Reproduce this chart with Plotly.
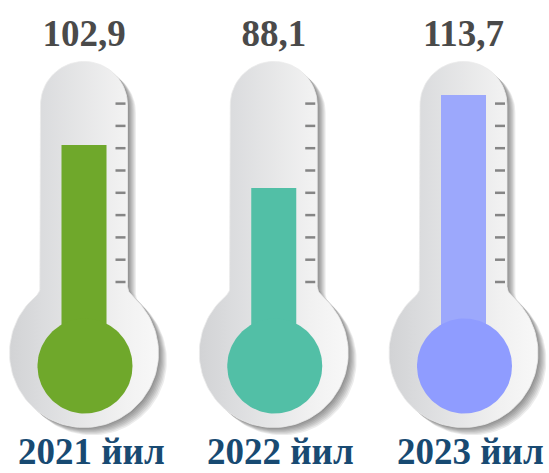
import numpy as np
import plotly.graph_objects as go

# ---------------- data ----------------
years = ["2021 йил", "2022 йил", "2023 йил"]
values = [102.9, 88.1, 113.7]
# mercury height read on the thermometer scale (in graduations)
fill_level = [6.14, 4.22, 8.39]
graduations = list(range(0, 9))
bar_colors = ["#6fa82b", "#52bfa6", "#9ca8fc"]
bulb_colors = ["#6fa82b", "#52bfa6", "#8f9cff"]

# ---------------- layout scale ----------------
W, H = 549, 473
PX_X = 189.75   # pixels per category step
PX_L = 22.3     # pixels per graduation
X0_PX = 84.0    # pixel x of first category
L0_PX = 282.0   # pixel y of graduation 0

x_range = [-X0_PX / PX_X, (W - X0_PX) / PX_X]
y_range = [-(H - L0_PX) / PX_L, L0_PX / PX_L]

TUBE_HW = 43.5
CAP_CY = 105.0
BULB_CY = 353.0
BULB_R = 74.5
FILLET_R = 14.0
INNER_CY = 366.0
INNER_R = 47.5
BAR_W = 45.0
TICK_X0, TICK_X1 = 31.5, 41.5


def lv(py):
    return (L0_PX - py) / PX_L


def body_outline():
    dx, py = [], []
    # rounded cap (right -> left over the top)
    t = np.linspace(0, np.pi, 40)
    dx += list(TUBE_HW * np.cos(t))
    py += list(CAP_CY - TUBE_HW * np.sin(t))
    r = FILLET_R
    fcx = TUBE_HW + r
    fdy = np.sqrt((BULB_R + r) ** 2 - fcx ** 2)
    fcy = BULB_CY - fdy
    th = np.arctan2(fdy, fcx)
    # left fillet
    a = np.linspace(0, th, 12)
    dx += list(-fcx + r * np.cos(a))
    py += list(fcy + r * np.sin(a))
    # bulb
    b0 = np.arctan2(-fdy, -fcx) % (2 * np.pi)
    b1 = np.arctan2(-fdy, fcx)
    b = np.linspace(b0, b1, 100)
    dx += list(BULB_R * np.cos(b))
    py += list(BULB_CY + BULB_R * np.sin(b))
    # right fillet
    a = np.linspace(np.pi - th, np.pi, 12)
    dx += list(fcx + r * np.cos(a))
    py += list(fcy + r * np.sin(a))
    dx.append(TUBE_HW)
    py.append(CAP_CY)
    return np.array(dx), np.array(py)


fig = go.Figure()
bdx, bpy = body_outline()

# shadows + bodies (main axes)
for i in range(len(years)):
    for k in range(1, 8):
        sx = 1.2 * k
        sy = 1.1 * k
        fig.add_trace(go.Scatter(
            x=i + (bdx + sx) / PX_X, y=lv(bpy + sy), mode="lines",
            line=dict(width=0), fill="toself", fillcolor="rgba(0,0,0,0.075)",
            hoverinfo="skip", showlegend=False))
    fig.add_trace(go.Scatter(
        x=i + bdx / PX_X, y=lv(bpy), mode="lines",
        line=dict(width=0.8, color="#ebebeb"), fill="toself",
        fillgradient=dict(type="horizontal",
                          colorscale=[[0, "#d2d3d5"], [0.22, "#dbdcde"],
                                      [0.75, "#f1f1f1"], [1, "#f8f8f8"]]),
        hoverinfo="skip", showlegend=False))

# mercury columns (overlay axes)
bases = [lv(INNER_CY)] * len(years)
fig.add_trace(go.Bar(
    x=list(range(len(years))), y=[f - b for f, b in zip(fill_level, bases)],
    base=bases, width=BAR_W / PX_X, marker=dict(color=bar_colors, line=dict(width=0)),
    xaxis="x2", yaxis="y2", showlegend=False, hoverinfo="skip"))

# bulbs
t = np.linspace(0, 2 * np.pi, 120)
for i in range(len(years)):
    fig.add_trace(go.Scatter(
        x=i + (1 + INNER_R * np.cos(t)) / PX_X, y=lv(INNER_CY + INNER_R * np.sin(t)),
        mode="lines", line=dict(width=0), fill="toself", fillcolor=bulb_colors[i],
        xaxis="x2", yaxis="y2", hoverinfo="skip", showlegend=False))

# graduation ticks
tx, ty = [], []
for i in range(len(years)):
    for g in graduations:
        tx += [i + TICK_X0 / PX_X, i + TICK_X1 / PX_X, None]
        ty += [g, g, None]
fig.add_trace(go.Scatter(x=tx, y=ty, mode="lines", line=dict(color="#858585", width=2.5),
                         xaxis="x2", yaxis="y2", hoverinfo="skip", showlegend=False))

# value labels
fig.add_trace(go.Scatter(
    x=list(range(len(years))), y=[lv(37)] * len(years), mode="text",
    text=[f"{v:.1f}".replace(".", ",") for v in values],
    textfont=dict(family="Liberation Serif", size=37, color="#4a4a4a", weight="bold"),
    xaxis="x2", yaxis="y2", hoverinfo="skip", showlegend=False))

# year labels
for i, yname in enumerate(years):
    fig.add_annotation(x=i, y=lv(473), xref="x2", yref="y2", text=yname, showarrow=False,
                       xshift=7, yanchor="bottom", borderpad=0,
                       font=dict(family="Liberation Serif", size=37,
                                 color="#184a72", weight="bold"))

ax = dict(range=x_range, visible=False, fixedrange=True)
ay = dict(range=y_range, visible=False, fixedrange=True)
fig.update_layout(
    width=W, height=H, margin=dict(l=0, r=0, t=0, b=0),
    paper_bgcolor="white", plot_bgcolor="white",
    xaxis=ax, yaxis=ay,
    xaxis2=dict(ax, overlaying="x"), yaxis2=dict(ay, overlaying="y"),
    showlegend=False,
)
fig.write_html("out.html", config={"displayModeBar": False},
               post_script="document.body.style.margin='0';document.body.style.overflow='hidden';")
